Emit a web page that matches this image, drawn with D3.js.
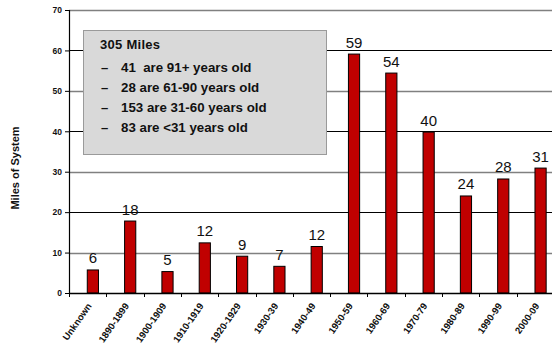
<!DOCTYPE html>
<html><head><meta charset="utf-8">
<script src="https://cdn.jsdelivr.net/npm/d3@7"></script>
<style>html,body{margin:0;padding:0;background:#fff;}svg{display:block;}</style>
</head><body>
<svg id="c" width="552" height="344"></svg>
<script>
const categories = ["Unknown","1890-1899","1900-1909","1910-1919","1920-1929","1930-39","1940-49","1950-59","1960-69","1970-79","1980-89","1990-99","2000-09"];
const values = [5.7, 17.8, 5.3, 12.4, 9.1, 6.6, 11.5, 59.1, 54.4, 39.8, 24.0, 28.2, 30.9];
const yTicks = [0,10,20,30,40,50,60,70];
const legendTitle = "305 Miles";
const legendItems = ["41  are 91+ years old","28 are 61-90 years old","153 are 31-60 years old","83 are <31 years old"];
const yTitle = "Miles of System";

const svg = d3.select("#c");
const m = {l:69, t:10, r:554, b:293};
const x = d3.scaleBand().domain(categories).range([m.l, m.r]).padding(0);
const y = d3.scaleLinear().domain([0,70]).range([m.b, m.t]);
const bw = x.bandwidth();
const FF = "Liberation Sans, Arial, sans-serif";

// gridlines
svg.append("g").selectAll("line").data(yTicks.filter(d=>d>0)).join("line")
  .attr("x1", m.l).attr("x2", 552)
  .attr("y1", d=>Math.round(y(d))+0.5).attr("y2", d=>Math.round(y(d))+0.5)
  .attr("stroke", d=> (d%20===0) ? "#000" : "#808080")
  .attr("stroke-width", d=> (d%20===0) ? 1 : 1.6);

// legend box
const lg = svg.append("g");
lg.append("rect").attr("x",83.5).attr("y",30.5).attr("width",243).attr("height",124)
  .attr("fill","#d9d9d9").attr("stroke","#9a9a9a").attr("stroke-width",1);
lg.append("text").attr("x",100).attr("y",49).text(legendTitle)
  .attr("font-family",FF).attr("font-weight","bold").attr("font-size",13).attr("textLength",60).attr("fill","#111");
legendItems.forEach((t,i)=>{
  const yy = 72 + i*20;
  lg.append("text").attr("x",101).attr("y",yy).text("\u2013")
    .attr("font-family",FF).attr("font-weight","bold").attr("font-size",13).attr("fill","#111");
  lg.append("text").attr("x",121).attr("y",yy).text(t).style("white-space","pre")
    .attr("font-family",FF).attr("font-weight","bold").attr("font-size",13.3).attr("fill","#111");
});

// bars
svg.append("g").selectAll("rect").data(values).join("rect")
  .attr("x", (d,i)=> x(categories[i]) + bw*0.49)
  .attr("width", bw*0.30)
  .attr("y", d=>y(d))
  .attr("height", d=> y(0)-y(d))
  .attr("fill","#c00000").attr("stroke","#000").attr("stroke-width",1);

// bar labels
svg.append("g").selectAll("text").data(values).join("text")
  .attr("x", (d,i)=> x(categories[i]) + bw*0.64)
  .attr("y", d=> y(d) - 6.5)
  .attr("text-anchor","middle")
  .attr("font-family",FF).attr("font-size",15).attr("fill","#111")
  .text(d=>Math.round(d));

// y axis
const ya = svg.append("g").attr("transform",`translate(${m.l},0)`)
  .call(d3.axisLeft(y).tickValues(yTicks).tickSize(4).tickPadding(3).tickFormat(d3.format("d")));
ya.select(".domain").attr("stroke","#000").attr("stroke-width",1.2).attr("d",`M0.5,${m.t}V${m.b}`);
ya.selectAll(".tick line").attr("stroke","#000");
ya.selectAll("text").attr("font-family",FF).attr("font-weight","bold").attr("font-size",8.5).attr("fill","#111");

// x axis
const xa = svg.append("g").attr("transform",`translate(0,${m.b})`)
  .call(d3.axisBottom(x).tickSize(0).tickFormat(""));
xa.select(".domain").attr("stroke","#000").attr("stroke-width",1.4).attr("d",`M${m.l},0.5H552`);
xa.selectAll(".tick").remove();
svg.append("g").selectAll("line").data(categories).join("line")
  .attr("x1", d=>Math.round(x(d))+0.5).attr("x2", d=>Math.round(x(d))+0.5)
  .attr("y1", m.b).attr("y2", m.b+4).attr("stroke","#000");
svg.append("g").selectAll("text").data(categories).join("text")
  .attr("transform", d=>`translate(${x(d)+bw*0.62},${m.b+13}) rotate(-55)`)
  .attr("text-anchor","end")
  .attr("font-family",FF).attr("font-weight","bold").attr("font-size",9.5).attr("fill","#111")
  .text(d=>d);

// y title
svg.append("text").attr("transform","translate(19,168) rotate(-90)")
  .attr("text-anchor","middle")
  .attr("font-family",FF).attr("font-weight","bold").attr("font-size",11).attr("fill","#111")
  .text(yTitle);
</script>
</body></html>
